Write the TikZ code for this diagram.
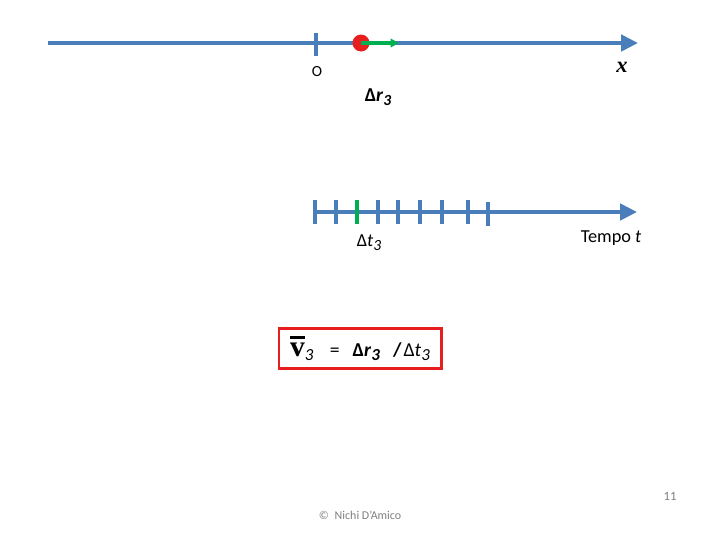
\documentclass[tikz,border=0pt]{standalone}
\usepackage{fontspec}
\setmainfont{Carlito}
\newfontfamily\serifx{Liberation Serif}
\usepackage{xcolor}
\usepackage{tikz}
\usetikzlibrary{arrows.meta,calc}
\definecolor{AzulAsse}{RGB}{74,126,187}
\definecolor{VerdeDelta}{RGB}{0,176,80}
\definecolor{RossoPunto}{RGB}{230,30,30}
\definecolor{GrigioNota}{RGB}{128,128,128}
% pedice corsivo, abbassato
\newcommand{\pedtre}[1]{\raisebox{-0.45ex}{\fontsize{#1}{#1}\selectfont\textit{3}}}
\tikzset{
  asse/.style={AzulAsse,line width=2.8pt,-{Triangle[length=12pt,width=11.5pt]}},
  tacca/.style={AzulAsse,line width=2.8pt},
  etichetta/.style={inner sep=0pt,font=\fontsize{13}{15}\selectfont},
}
\begin{document}
\begin{tikzpicture}[x=0.025cm,y=-0.025cm]
  \useasboundingbox (0,0) rectangle (720,540);
  % asse delle posizioni
  \coordinate (xini) at (48,43);
  \coordinate (xfin) at (638,43);
  \draw[asse] (xini)--(xfin);
  \draw[tacca] (316,33)--(316,56);
  \coordinate (pos) at (361,43);
  \coordinate (posfin) at (399,43);
  \fill[RossoPunto] (pos) circle (8.5);
  \draw[VerdeDelta,line width=2.2pt,-{Triangle[length=6pt,width=6pt]}] (pos)--(posfin);
  \node[inner sep=0pt,font=\fontsize{11}{13}\selectfont] (origine) at (317,72) {O};
  \node[inner sep=0pt] (asx) at (622,67) {\fontsize{16}{18}\selectfont\serifx\bfseries\itshape x};
  \node[inner sep=0pt] (deltar) at (378,97) {\fontsize{14}{16}\selectfont\bfseries Δ\textit{r}\pedtre{11}};
  % asse dei tempi
  \coordinate (tini) at (313,212);
  \coordinate (tfin) at (637,212);
  \draw[asse] (tini)--(tfin);
  \foreach \tx in {315,336,378,398,420,442,468}
    \draw[tacca] (\tx,200)--(\tx,224);
  \draw[tacca] (488,202)--(488,226);
  \draw[VerdeDelta,line width=2.8pt] (357,200)--(357,224);
  \node[etichetta] (deltat) at (369,243) {Δ\textit{t}\pedtre{11}};
  \node[etichetta] (tempo) at (611,238) {Tempo \textit{t}};
  % velocita media
  \node[draw=RossoPunto,line width=2.1pt,minimum width=4.05cm,minimum height=1.02cm,inner sep=0pt,
        font=\fontsize{14}{16}\selectfont] (velmedia) at (360,348.5)
    {{\fontsize{21}{23}\selectfont\serifx\bfseries\setbox0\hbox{v}\rlap{\raisebox{1.25\ht0}{\rule{\wd0}{2pt}}}v}\pedtre{12}\enspace\,\,=\enspace\,{\bfseries Δ\textit{r}\pedtre{12}}\enspace\,{\bfseries /}\hspace{1.5pt}Δ\textit{t}\pedtre{12}};
  % piede di pagina
  \node[inner sep=0pt,GrigioNota,font=\fontsize{8.5}{10}\selectfont] (autore) at (360,515) {©\enspace Nichi D'Amico};
  \node[inner sep=0pt,GrigioNota,font=\fontsize{9}{10}\selectfont] (pagina) at (670,496) {11};
\end{tikzpicture}
\end{document}
